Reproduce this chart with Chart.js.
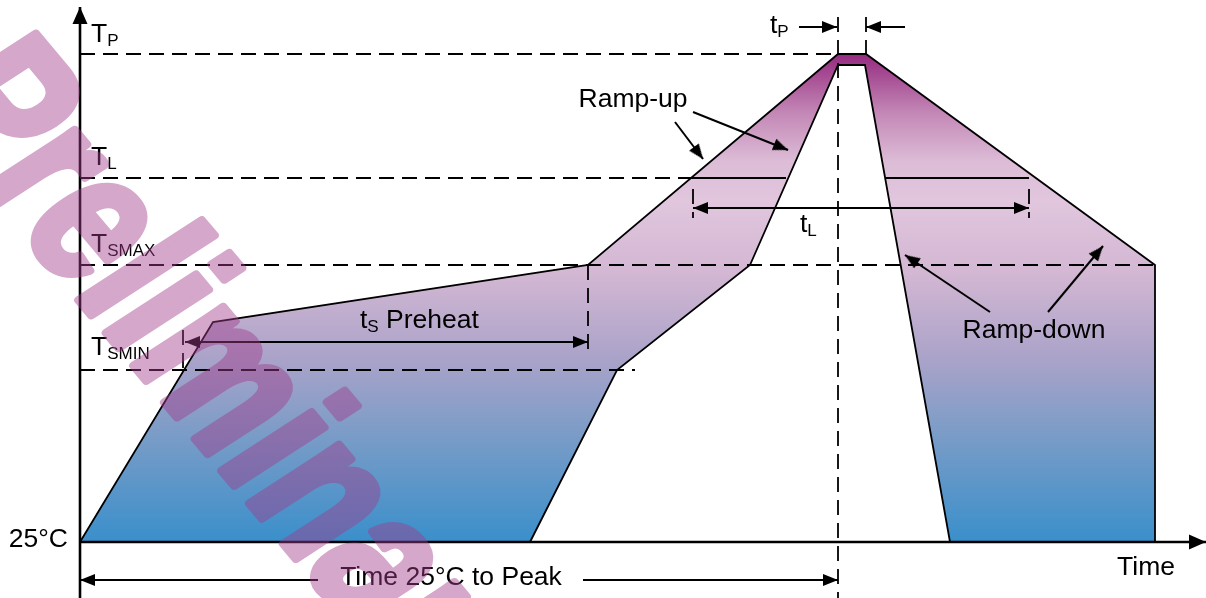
<!DOCTYPE html>
<html>
<head>
<meta charset="utf-8">
<script src="https://cdn.jsdelivr.net/npm/chart.js@4.4.0/dist/chart.umd.min.js"></script>
<style>
  body { margin: 0; background: #fff; }
  canvas { display: block; }
</style>
</head>
<body>
<canvas id="profile" width="1206" height="598"></canvas>
<script>
// PROFILE BAND (time units, temperature units above 25°C)
const outerTime = [0, 133, 508, 758, 786, 1075, 1075];
const outerTemp = [0, 220, 277, 488, 488, 277, 0];
const innerTime = [450, 537, 670, 758, 785, 870];
const innerTemp = [0, 172, 277, 477, 477, 0];

// TEMPERATURE LEVELS (dashed lines)
const levelNames = ['TP', 'TL', 'TSMAX', 'TSMIN'];
const levelTemp = [488, 364, 277, 172];
const levelEnd = [758, 613, 1075, 555];

// OTHER DASHED GUIDES
const guideX1 = [758, 786, 508, 103, 613, 949];
const guideY1 = [525, 525, 277, 212, 353, 353];
const guideX2 = [758, 786, 508, 103, 613, 949];
const guideY2 = [-56, 488, 187, 172, 324, 324];

// SOLID TL PARTS INSIDE THE BAND
const solidX1 = [613, 806];
const solidX2 = [706, 949];

// ARROWS
const arrowX1 = [105, 613, 0, 503, 719, 825, 595, 613, 910, 968];
const arrowY1 = [200, 334, -38, -38, 515, 515, 420, 430, 230, 230];
const arrowX2 = [508, 949, 238, 758, 757, 786, 623, 708, 825, 1023];
const arrowY2 = [200, 334, -38, -38, 515, 515, 383, 392, 287, 296];
const arrowHeads = ['both', 'both', 'start', 'end', 'end', 'end', 'end', 'end', 'end', 'end'];

// AXES
const axisX1 = [0, 0];
const axisY1 = [-56, 0];
const axisX2 = [0, 1126];
const axisY2 = [535, 0];

// TEXT
const labelText = ['T', 'T', 'T', 'T', '25°C', 't', 't', 't', 'Ramp-up', 'Ramp-down', 'Time', 'Time 25°C to Peak'];
const labelSub = ['P', 'L', 'SMAX', 'SMIN', '', 'S', 'L', 'P', '', '', '', ''];
const labelTail = ['', '', '', '', '', ' Preheat', '', '', '', '', '', ''];
const labelTime = [11, 11, 11, 11, -12, 280, 720, 690, 553, 954, 1066, 371];
const labelTemp = [500, 377, 290, 187, -5, 214, 310, 509, 435, 204, -33, -43];
const labelAlign = ['left', 'left', 'left', 'left', 'right', 'left', 'left', 'left', 'center', 'center', 'center', 'center'];

const FONT = '"Liberation Sans", Arial, sans-serif';

function pts(xs, ys) {
    let out = [];
    for (let i = 0; i < xs.length; i++) out.push({x: xs[i], y: ys[i]});
    return out;
}

// arrow head picture, tip in the middle, pointing right
function makeHead(len, wid) {
    let c = document.createElement('canvas');
    let s = Math.ceil(len) * 2 + 2;
    c.width = s; c.height = s;
    let g = c.getContext('2d');
    let m = s / 2;
    g.fillStyle = '#000';
    g.beginPath();
    g.moveTo(m, m);
    g.lineTo(m - len, m - wid / 2);
    g.lineTo(m - len, m + wid / 2);
    g.closePath();
    g.fill();
    return c;
}
const smallHead = makeHead(15, 12);
const bigHead = makeHead(17, 15);

function headRotation(ctx) {
    let ds = ctx.dataset;
    let i = ctx.dataIndex;
    let j = i === 0 ? 1 : 0;
    let sx = ctx.chart.scales.x, sy = ctx.chart.scales.y;
    let p = ds.data[i], q = ds.data[j];
    let dx = sx.getPixelForValue(p.x) - sx.getPixelForValue(q.x);
    let dy = sy.getPixelForValue(p.y) - sy.getPixelForValue(q.y);
    return Math.atan2(dy, dx) * 180 / Math.PI;
}

function headRadius(ctx) {
    let h = ctx.dataset.heads;
    if (!h) return 0;
    if (h === 'both') return 4;
    if (h === 'start' && ctx.dataIndex === 0) return 4;
    if (h === 'end' && ctx.dataIndex === 1) return 4;
    return 0;
}

function segment(x1, y1, x2, y2, opts) {
    return Object.assign({
        data: [{x: x1, y: y1}, {x: x2, y: y2}],
        borderColor: '#000',
        borderWidth: 2,
        pointRadius: headRadius,
        pointRotation: headRotation,
        pointStyle: smallHead,
        fill: false,
        order: 0
    }, opts || {});
}

let datasets = [];

// band
datasets.push({
    data: pts(outerTime, outerTemp),
    borderColor: '#000',
    borderWidth: 1.8,
    pointRadius: 0,
    fill: 'origin',
    order: 10,
    backgroundColor: function(context) {
        let chart = context.chart;
        if (!chart.chartArea) return '#c8a8d0';
        let top = chart.scales.y.getPixelForValue(488);
        let bottom = chart.scales.y.getPixelForValue(0);
        let g = chart.ctx.createLinearGradient(0, top, 0, bottom);
        g.addColorStop(0, '#952a7f');
        g.addColorStop(0.12, '#c387b6');
        g.addColorStop(0.22, '#dcbcd6');
        g.addColorStop(0.30, '#e1c6de');
        g.addColorStop(0.45, '#d3b7d3');
        g.addColorStop(0.62, '#aba3c9');
        g.addColorStop(0.78, '#7a9cc7');
        g.addColorStop(1, '#3a8fcb');
        return g;
    }
});
datasets.push({
    data: pts(innerTime, innerTemp),
    borderColor: '#000',
    borderWidth: 1.8,
    pointRadius: 0,
    fill: 'origin',
    backgroundColor: '#fff',
    order: 9
});

for (let i = 0; i < levelTemp.length; i++) {
    datasets.push(segment(0, levelTemp[i], levelEnd[i], levelTemp[i], {borderDash: [15, 8], borderWidth: 1.8}));
}
for (let i = 0; i < guideX1.length; i++) {
    datasets.push(segment(guideX1[i], guideY1[i], guideX2[i], guideY2[i], {borderDash: [15, 8], borderWidth: 1.8}));
}
for (let i = 0; i < solidX1.length; i++) {
    datasets.push(segment(solidX1[i], levelTemp[1], solidX2[i], levelTemp[1], {borderWidth: 1.8}));
}
for (let i = 0; i < arrowX1.length; i++) {
    datasets.push(segment(arrowX1[i], arrowY1[i], arrowX2[i], arrowY2[i], {heads: arrowHeads[i]}));
}
for (let i = 0; i < axisX1.length; i++) {
    datasets.push(segment(axisX1[i], axisY1[i], axisX2[i], axisY2[i], {heads: 'end', borderWidth: 2.6, pointStyle: bigHead}));
}

// TEXT PLUGIN
const labelPlugin = {
    id: 'labels',
    afterDatasetsDraw(chart) {
        let c = chart.ctx;
        let sx = chart.scales.x, sy = chart.scales.y;
        c.save();
        c.fillStyle = '#000';
        c.textBaseline = 'alphabetic';
        c.textAlign = 'left';
        for (let i = 0; i < labelText.length; i++) {
            let mainFont = '26.5px ' + FONT;
            let subFont = '17px ' + FONT;
            c.font = mainFont;
            let w = c.measureText(labelText[i]).width;
            c.font = subFont;
            let ws = labelSub[i] ? c.measureText(labelSub[i]).width : 0;
            c.font = mainFont;
            let wt = labelTail[i] ? c.measureText(labelTail[i]).width : 0;
            let total = w + ws + wt;
            let x = sx.getPixelForValue(labelTime[i]);
            let y = sy.getPixelForValue(labelTemp[i]);
            if (labelAlign[i] === 'right') x -= total;
            if (labelAlign[i] === 'center') x -= total / 2;
            c.font = mainFont;
            c.fillText(labelText[i], x, y);
            if (labelSub[i]) {
                c.font = subFont;
                c.fillText(labelSub[i], x + w, y + 4);
            }
            if (labelTail[i]) {
                c.font = mainFont;
                c.fillText(labelTail[i], x + w + ws, y);
            }
        }
        c.restore();
    },
    afterDraw(chart) {
        // watermark: heavy slanted letters painted opaque off screen, then laid over see-through
        let off = document.createElement('canvas');
        off.width = chart.width;
        off.height = chart.height;
        let g = off.getContext('2d');
        g.translate(-88, 101);
        g.rotate(50 * Math.PI / 180);
        g.transform(1, 0, -Math.tan(7 * Math.PI / 180), 1, 0, 0);
        g.scale(1, 1.3);
        g.font = 'bold 154px ' + FONT;
        g.fillStyle = 'rgb(160, 60, 140)';
        g.strokeStyle = 'rgb(160, 60, 140)';
        g.lineWidth = 7;
        g.lineJoin = 'round';
        g.fillText('Preliminary', 0, 0);
        g.strokeText('Preliminary', 0, 0);
        let c = chart.ctx;
        c.save();
        c.globalAlpha = 0.45;
        c.drawImage(off, 0, 0);
        c.restore();
    }
};

let ctx = document.getElementById('profile').getContext('2d');
let profileChart = new Chart(ctx, {
    type: 'line',
    data: {datasets: datasets},
    options: {
        responsive: false,
        animation: false,
        events: [],
        layout: {padding: 0, autoPadding: false},
        elements: {line: {tension: 0, borderCapStyle: 'butt'}},
        scales: {
            x: {type: 'linear', min: -80, max: 1126, display: false},
            y: {type: 'linear', min: -56, max: 542, display: false}
        },
        plugins: {
            legend: {display: false},
            tooltip: {enabled: false}
        }
    },
    plugins: [labelPlugin]
});
</script>
</body>
</html>
